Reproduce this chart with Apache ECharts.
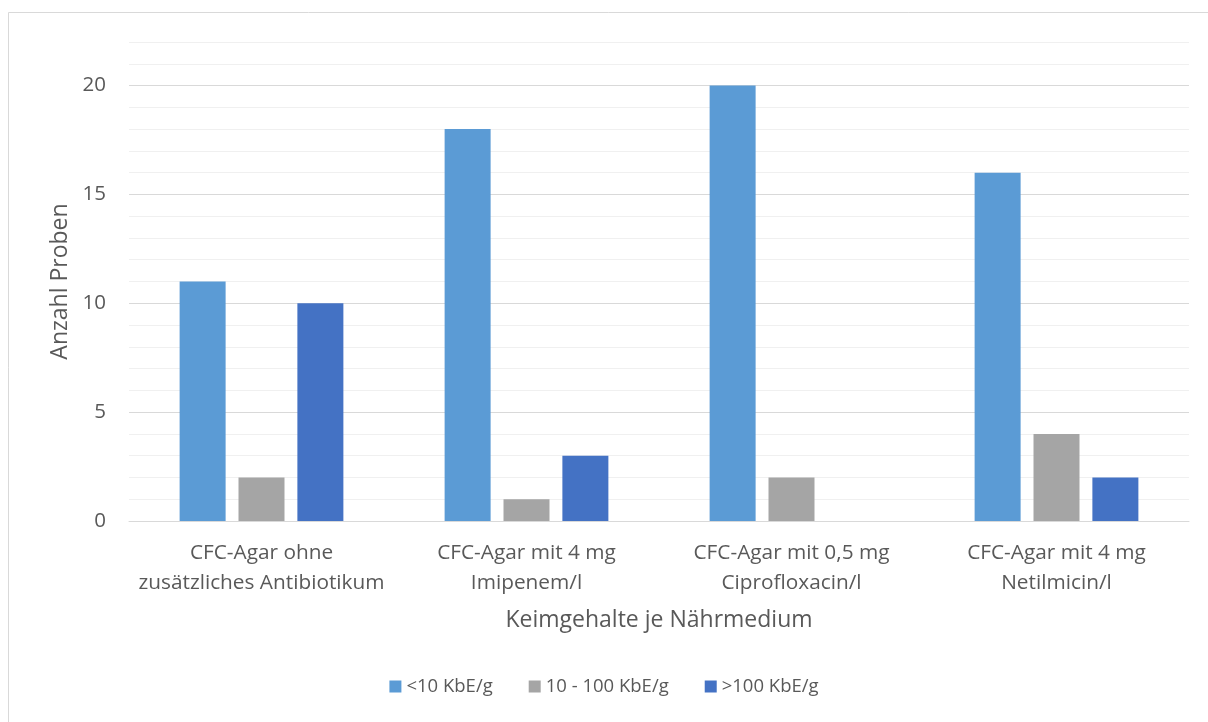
<!DOCTYPE html>
<html>
<head>
<meta charset="utf-8">
<script src="https://cdn.jsdelivr.net/npm/echarts@6/dist/echarts.min.js"></script>
<style>
html,body{margin:0;padding:0;background:#fff;}
#chart{width:1208px;height:722px;}
</style>
</head>
<body>
<div id="chart"></div>
<script>
const categories = [
  "CFC-Agar ohne\nzusätzliches Antibiotikum",
  "CFC-Agar mit 4 mg\nImipenem/l",
  "CFC-Agar mit 0,5 mg\nCiprofloxacin/l",
  "CFC-Agar mit 4 mg\nNetilmicin/l"
];
const seriesNames = ["<10 KbE/g", "10 - 100 KbE/g", ">100 KbE/g"];
const lowValues = [11, 18, 20, 16];
const midValues = [2, 1, 2, 4];
const highValues = [10, 3, 0, 2];
const yTickLabels = [0, 5, 10, 15, 20];

const FONT = "'Open Sans', sans-serif";
const TXT = "#595959";
const chart = echarts.init(document.getElementById('chart'), null, {renderer: 'canvas'});
chart.setOption({
  animation: false,
  backgroundColor: '#fff',
  color: ['#5B9BD5', '#A5A5A5', '#4472C4'],
  textStyle: {fontFamily: FONT, color: TXT},
  graphic: [{
    type: 'rect', silent: true,
    shape: {x: 8.5, y: 12.5, width: 1400, height: 900},
    style: {fill: 'none', stroke: '#d9d9d9', lineWidth: 1}
  }],
  grid: {left: 129, right: 19, top: 42, bottom: 201, containLabel: false},
  legend: {
    bottom: 21, left: 'center',
    itemWidth: 12, itemHeight: 12, itemGap: 36,
    icon: 'rect',
    textStyle: {fontFamily: FONT, fontSize: 18.5, color: TXT},
    data: seriesNames
  },
  xAxis: {
    type: 'category',
    data: categories,
    name: 'Keimgehalte je Nährmedium',
    nameLocation: 'middle',
    nameGap: 88,
    nameTextStyle: {fontFamily: FONT, fontSize: 23, color: TXT},
    axisLine: {lineStyle: {color: '#d9d9d9', width: 1}},
    axisTick: {show: false},
    axisLabel: {fontFamily: FONT, fontSize: 20.8, color: TXT, lineHeight: 30, margin: 17, interval: 0}
  },
  yAxis: {
    type: 'value',
    min: 0, max: 22, interval: 1,
    name: 'Anzahl Proben',
    nameLocation: 'middle',
    nameGap: 57,
    nameTextStyle: {fontFamily: FONT, fontSize: 23, color: TXT},
    axisLine: {show: false},
    axisTick: {show: false},
    axisLabel: {
      fontFamily: FONT, fontSize: 20.5, color: TXT, margin: 23,
      formatter: v => yTickLabels.includes(v) ? String(v) : ''
    },
    splitLine: {lineStyle: {color: ['#d9d9d9', '#f0f0f0', '#f0f0f0', '#f0f0f0', '#f0f0f0'], width: 1}}
  },
  series: [
    {name: seriesNames[0], type: 'bar', data: lowValues, barWidth: 46, barGap: '28%'},
    {name: seriesNames[1], type: 'bar', data: midValues, barWidth: 46, barGap: '28%'},
    {name: seriesNames[2], type: 'bar', data: highValues, barWidth: 46, barGap: '28%'}
  ]
});
</script>
</body>
</html>
